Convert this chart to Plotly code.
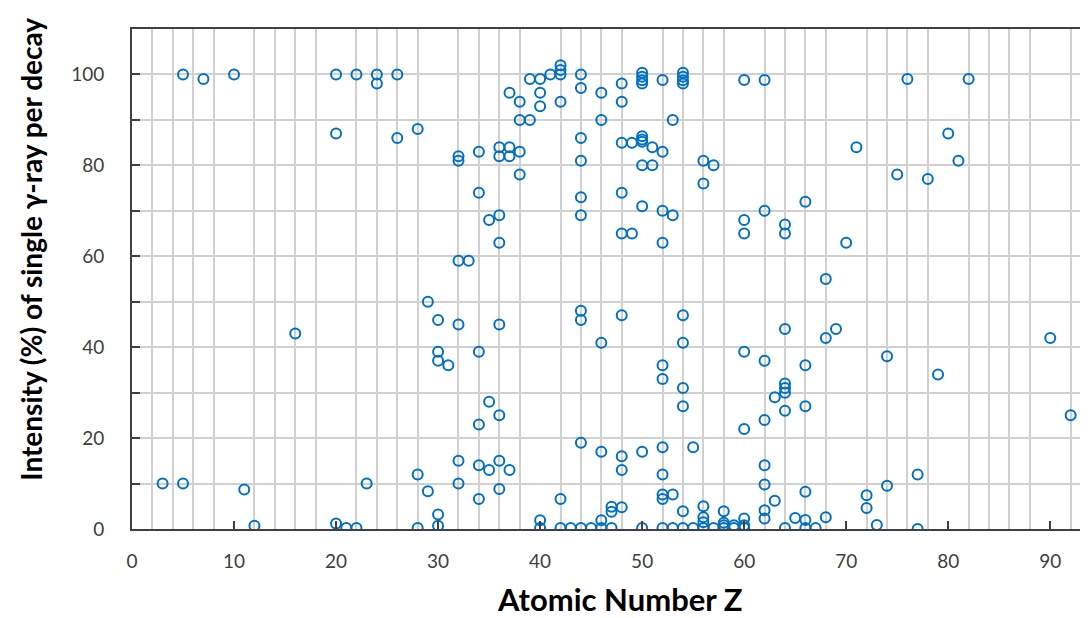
import plotly.graph_objects as go

# Atomic number Z and intensity (%) of single gamma-ray per decay
Z = [5, 7, 10, 20, 20, 22, 3, 5, 11, 12, 16, 20, 21, 22, 23,
     24, 24, 26, 26, 28,
     32, 32, 32, 33, 34, 34, 35, 36, 36, 37, 37, 36, 36, 38, 38, 37, 38, 38, 39, 39, 40, 40, 40, 41,
     42, 42, 42, 42, 44, 44, 44, 44, 44, 44, 46, 46,
     29, 30, 30, 30, 31, 32, 32, 32, 28, 28, 29, 30, 30, 34, 34, 34, 34, 35, 35, 36, 36, 36, 36, 37,
     40, 40, 42, 42, 43, 44, 45, 46, 46, 47, 47, 47, 44, 44, 46, 44, 46,
     48, 48, 50, 50, 50, 50, 52, 54, 54, 54, 54, 60, 62, 53, 48, 49, 50, 50, 50, 51, 52, 50, 51,
     56, 57, 56, 48, 50, 52, 53, 48, 49, 52, 60, 60, 62, 64, 64, 66, 70, 68,
     48, 54, 54, 60, 62, 64, 68, 69, 52, 52, 54, 54, 64, 64, 64, 63, 64, 66, 66, 60, 62,
     48, 48, 50, 52, 55, 52, 52, 52, 53, 62, 62, 66, 63, 62, 62, 65, 66, 68,
     48, 54, 56, 56, 56, 58, 58, 58, 59, 60, 60,
     50, 52, 53, 54, 55, 56, 57, 58, 59, 60, 64, 66, 67,
     76, 82, 80, 71, 81, 75, 78, 90, 92, 74, 79, 77, 74, 72, 72, 73, 77]

intensity = [100, 99, 100, 100, 87, 100, 10, 10, 8.7, 0.7, 43, 1.2, 0.2, 0.2, 10,
             100, 98, 100, 86, 88,
             82, 81, 59, 59, 83, 74, 68, 84, 82, 84, 82, 69, 63, 83, 78, 96, 94, 90, 90, 99, 99, 96, 93, 100,
             102, 101, 100, 94, 100, 97, 86, 81, 73, 69, 96, 90,
             50, 46, 39, 37, 36, 45, 15, 10, 12, 0.2, 8.3, 3.2, 0.7, 39, 23, 14, 6.6, 28, 13, 45, 25, 15, 8.8, 13,
             1.9, 0.2, 6.6, 0.2, 0.2, 0.2, 0.2, 0.2, 1.9, 0.2, 4.9, 3.8, 48, 46, 41, 19, 17,
             98, 94, 100.4, 99.5, 98.7, 98, 98.8, 100.4, 99.5, 98.7, 98, 98.8, 98.8, 90, 85, 85, 86.4, 85.7, 85.2, 84, 83, 80, 80,
             81, 80, 76, 74, 71, 70, 69, 65, 65, 63, 68, 65, 70, 67, 65, 72, 63, 55,
             47, 47, 41, 39, 37, 44, 42, 44, 36, 33, 31, 27, 32, 31, 30, 29, 26, 36, 27, 22, 24,
             16, 13, 17, 18, 18, 12, 7.6, 6.6, 7.6, 14, 9.8, 8.2, 6.2, 4.1, 2.3, 2.4, 2, 2.6,
             4.8, 3.9, 5, 2.6, 1.5, 3.9, 1.4, 0.8, 0.8, 2.3, 0.8,
             0.2, 0.2, 0.2, 0.2, 0.2, 0.2, 0.2, 0.2, 0.2, 0.2, 0.2, 0.2, 0.2,
             99, 99, 87, 84, 81, 78, 77, 42, 25, 38, 34, 12, 9.5, 7.4, 4.6, 0.9, 0]

x_title = "Atomic Number Z"
y_title = "Intensity (%) of single γ-ray per decay"

fig = go.Figure()
fig.add_trace(go.Scatter(
    x=Z, y=intensity, mode="markers",
    marker=dict(symbol="circle-open", size=10, color="#0070C0", line=dict(width=2, color="#0070C0")),
    showlegend=False,
))

grid_col = "#D0D0D0"
fig.update_layout(
    width=1080, height=610,
    margin=dict(l=124, r=0, t=21, b=89),
    paper_bgcolor="white", plot_bgcolor="white",
    font=dict(family="Lato, Carlito, Calibri, sans-serif", size=19, color="#404040"),
    xaxis=dict(
        range=[0, 93.7], dtick=10, tick0=0,
        showgrid=False, zeroline=False,
        showline=True, linecolor="#404040", linewidth=2, mirror=True,
        ticks="inside", ticklen=8, tickcolor="#404040", tickwidth=1.5,
        ticklabelstandoff=14,
        minor=dict(dtick=2, showgrid=True, gridcolor=grid_col, gridwidth=1.5, ticks=""),
    ),
    yaxis=dict(
        range=[0, 110], dtick=20, tick0=0,
        showgrid=True, gridcolor=grid_col, gridwidth=1.5, zeroline=False,
        showline=True, linecolor="#404040", linewidth=2,
        ticks="inside", ticklen=8, tickcolor="#404040", tickwidth=1.5,
        ticklabelstandoff=22,
        minor=dict(dtick=10, showgrid=True, gridcolor=grid_col, gridwidth=1.5,
                   ticks="inside", ticklen=8, tickcolor="#404040"),
    ),
    annotations=[
        dict(text="<b>" + x_title + "</b>", xref="paper", yref="paper", x=0.51, y=-0.14,
             xanchor="center", yanchor="middle", showarrow=False,
             font=dict(size=31, color="black", family="Lato, Carlito, sans-serif")),
        dict(text="<b>" + y_title + "</b>", xref="paper", yref="paper", x=-0.106, y=0.56,
             xanchor="center", yanchor="middle", showarrow=False, textangle=-90,
             font=dict(size=28, color="black", family="Lato, Carlito, sans-serif")),
    ],
)

fig.write_html("out.html")
